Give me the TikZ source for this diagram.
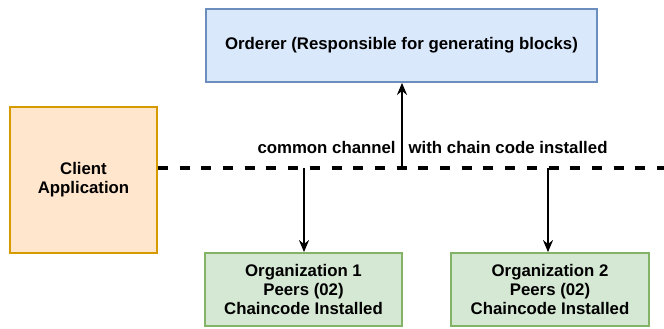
\documentclass[tikz,border=0pt]{standalone}
\usepackage{fontspec}
\setmainfont{Liberation Sans}
\usetikzlibrary{arrows.meta}
\definecolor{bluefill}{HTML}{DAE8FC}
\definecolor{bluedraw}{HTML}{6C8EBF}
\definecolor{orfill}{HTML}{FFE6CC}
\definecolor{ordraw}{HTML}{D79B00}
\definecolor{grfill}{HTML}{D5E8D4}
\definecolor{grdraw}{HTML}{82B366}
\begin{document}
\begin{tikzpicture}[x=1pt,y=-1pt,
  txt/.style={font=\bfseries\fontsize{16.8}{19}\selectfont},
  boxbase/.style={txt, draw, line width=1.8pt, inner sep=0pt, align=center},
  bluebox/.style={boxbase, draw=bluedraw, fill=bluefill},
  orbox/.style={boxbase, draw=ordraw, fill=orfill},
  grbox/.style={boxbase, draw=grdraw, fill=grfill},
  conn/.style={line width=1.8pt, -{Stealth[length=12pt,width=10pt]}},
  chan/.style={line width=3.5pt, dash pattern=on 10pt off 11.7pt}
]
\useasboundingbox (0,0) rectangle (664,329);
\node[bluebox, minimum width=391pt, minimum height=73pt] (ord) at (401.5,45.5) {Orderer (Responsible for generating blocks)};
\node[orbox, minimum width=147pt, minimum height=146pt] (cli) at (83.5,180) {Client\\Application};
\node[grbox, minimum width=197pt, minimum height=73pt] (o1) at (303.5,289.5) {Organization 1\\Peers (02)\\Chaincode Installed};
\node[grbox, minimum width=198pt, minimum height=73pt] (o2) at (550,289.5) {Organization 2\\Peers (02)\\Chaincode Installed};
\coordinate (end) at (664,168);
\coordinate (j0) at (402,168);
\coordinate (j1) at (304,168);
\coordinate (j2) at (548,168);
\draw[chan] (cli.east |- end) -- (end);
\node[txt] (lab) at (432.5,147) {common channel\hspace{13pt}with chain code installed};
\draw[conn] (j0) -- (ord.south -| j0);
\draw[conn] (j1) -- (o1.north -| j1);
\draw[conn] (j2) -- (o2.north -| j2);
\end{tikzpicture}
\end{document}
